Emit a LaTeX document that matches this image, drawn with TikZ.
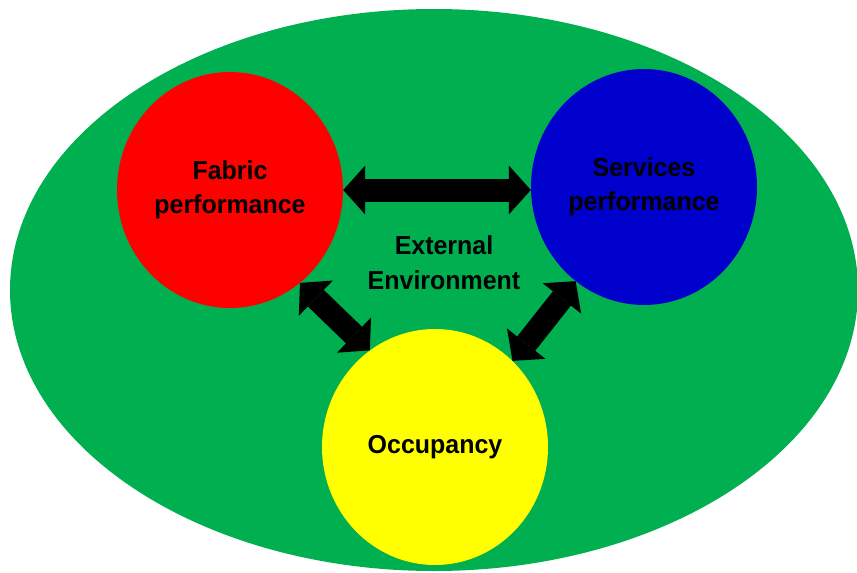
\documentclass[tikz,border=0pt]{standalone}
\usepackage{fontspec}
\setmainfont{Liberation Sans}
\newfontfamily\labfont[FakeStretch=0.96]{Liberation Sans}
\usetikzlibrary{arrows.meta,shapes.geometric}
\definecolor{envgreen}{RGB}{0,176,80}
\definecolor{fabred}{RGB}{255,0,0}
\definecolor{servblue}{RGB}{0,0,204}
\definecolor{occyellow}{RGB}{255,255,0}
\tikzset{
  blob/.style={ellipse, inner sep=0pt, minimum width=226pt, minimum height=236pt,
    align=center, font=\labfont\bfseries\fontsize{26}{34}\selectfont, text=black},
  bigarrow/.style={line width=23pt, draw=black,
    {Triangle[width=49pt,length=22pt,line width=0pt]}-{Triangle[width=49pt,length=22pt,line width=0pt]}},
  lbl/.style={align=center, font=\labfont\bfseries\fontsize{26}{35}\selectfont, text=black, inner sep=0pt}
}
\begin{document}
\begin{tikzpicture}[x=1pt,y=-1pt]
\clip (0,0) rectangle (857,573);
\useasboundingbox (0,0) rectangle (857,573);
\fill[white] (0,0) rectangle (857,573);
\node[ellipse, fill=envgreen, minimum width=848pt, minimum height=562pt, inner sep=0pt] (env) at (434,290) {};
\node[blob, fill=fabred] (fab) at (230,190) {Fabric\\performance};
\node[blob, fill=servblue] (serv) at (644,187) {Services\\performance};
\node[blob, fill=occyellow] (occ) at (435,447) {Occupancy};
\node[lbl] (ext) at (444,263) {External\\Environment};
\draw[bigarrow] (fab.east) -- (fab.east -| serv.west);
\draw[bigarrow] (fab.-53.8) -- (occ.124.6);
\draw[bigarrow] (serv.-126.6) -- (occ.48.8);
\end{tikzpicture}
\end{document}
